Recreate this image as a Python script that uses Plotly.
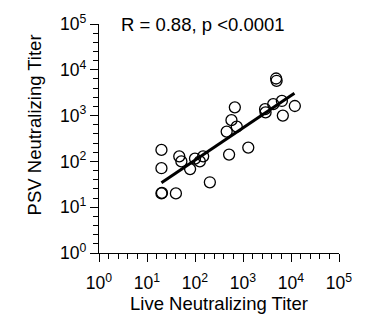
import plotly.graph_objects as go

# Data
live_titer = [20, 20, 20, 20.5, 40, 47, 52, 79, 100, 126, 148, 204,
              457, 513, 575, 741, 676, 1288, 2884, 2951, 4266, 6457,
              6761, 12023, 4898, 5012]
psv_titer = [178, 71, 20, 20.5, 20, 129, 100, 68, 115, 100, 129, 35,
             447, 141, 794, 575, 1514, 200, 1380, 1175, 1778, 2089,
             1000, 1622, 6457, 5754]
fit_x = [20, 11800]
fit_y = [34, 3090]

tick_vals = [1, 10, 100, 1000, 10000, 100000]
tick_text = ["10<sup>0</sup>", "10<sup>1</sup>", "10<sup>2</sup>",
             "10<sup>3</sup>", "10<sup>4</sup>", "10<sup>5</sup>"]
minor_vals = [10 ** (k + j * 0.2) for k in range(5) for j in range(1, 5)]

FONT = "Liberation Sans, Arial, Helvetica, sans-serif"

fig = go.Figure()
fig.add_trace(go.Scatter(
    x=fit_x, y=fit_y, mode="lines",
    line=dict(color="black", width=3), showlegend=False, hoverinfo="skip"))
fig.add_trace(go.Scatter(
    x=live_titer, y=psv_titer, mode="markers",
    marker=dict(symbol="circle-open", size=11, color="black",
                line=dict(width=1.3, color="black")),
    showlegend=False))

axis_common = dict(
    type="log", range=[0, 5],
    showline=True, linecolor="black", linewidth=1.3,
    ticks="outside", ticklen=8, tickwidth=1.3, tickcolor="black",
    tickmode="array", tickvals=tick_vals, ticktext=tick_text,
    showgrid=False, zeroline=False,
    tickfont=dict(family=FONT, size=17.5, color="black"),
    minor=dict(tickmode="array", tickvals=minor_vals, ticks="outside",
               ticklen=5, tickwidth=1.1, tickcolor="black", showgrid=False),
)

fig.update_xaxes(**axis_common, ticklabelstandoff=6, title=dict(
    text="Live Neutralizing Titer", font=dict(family=FONT, size=18.5, color="black"),
    standoff=0))
fig.update_yaxes(**axis_common, ticklabelstandoff=0)

fig.add_annotation(
    text="PSV Neutralizing Titer", xref="paper", yref="paper",
    x=-0.265, y=0.559, textangle=-90, showarrow=False,
    xanchor="center", yanchor="middle",
    font=dict(family=FONT, size=18.5, color="black"))
fig.add_annotation(
    text="R = 0.88, p <0.0001", xref="paper", yref="paper",
    x=0.083, y=0.996, showarrow=False, xanchor="left", yanchor="middle",
    font=dict(family=FONT, size=18.5, color="black"))

fig.update_layout(
    width=377, height=320,
    margin=dict(l=99, r=38, t=15, b=67),
    paper_bgcolor="white", plot_bgcolor="white",
    font=dict(family=FONT, color="black"),
)

fig.write_html("out.html")
